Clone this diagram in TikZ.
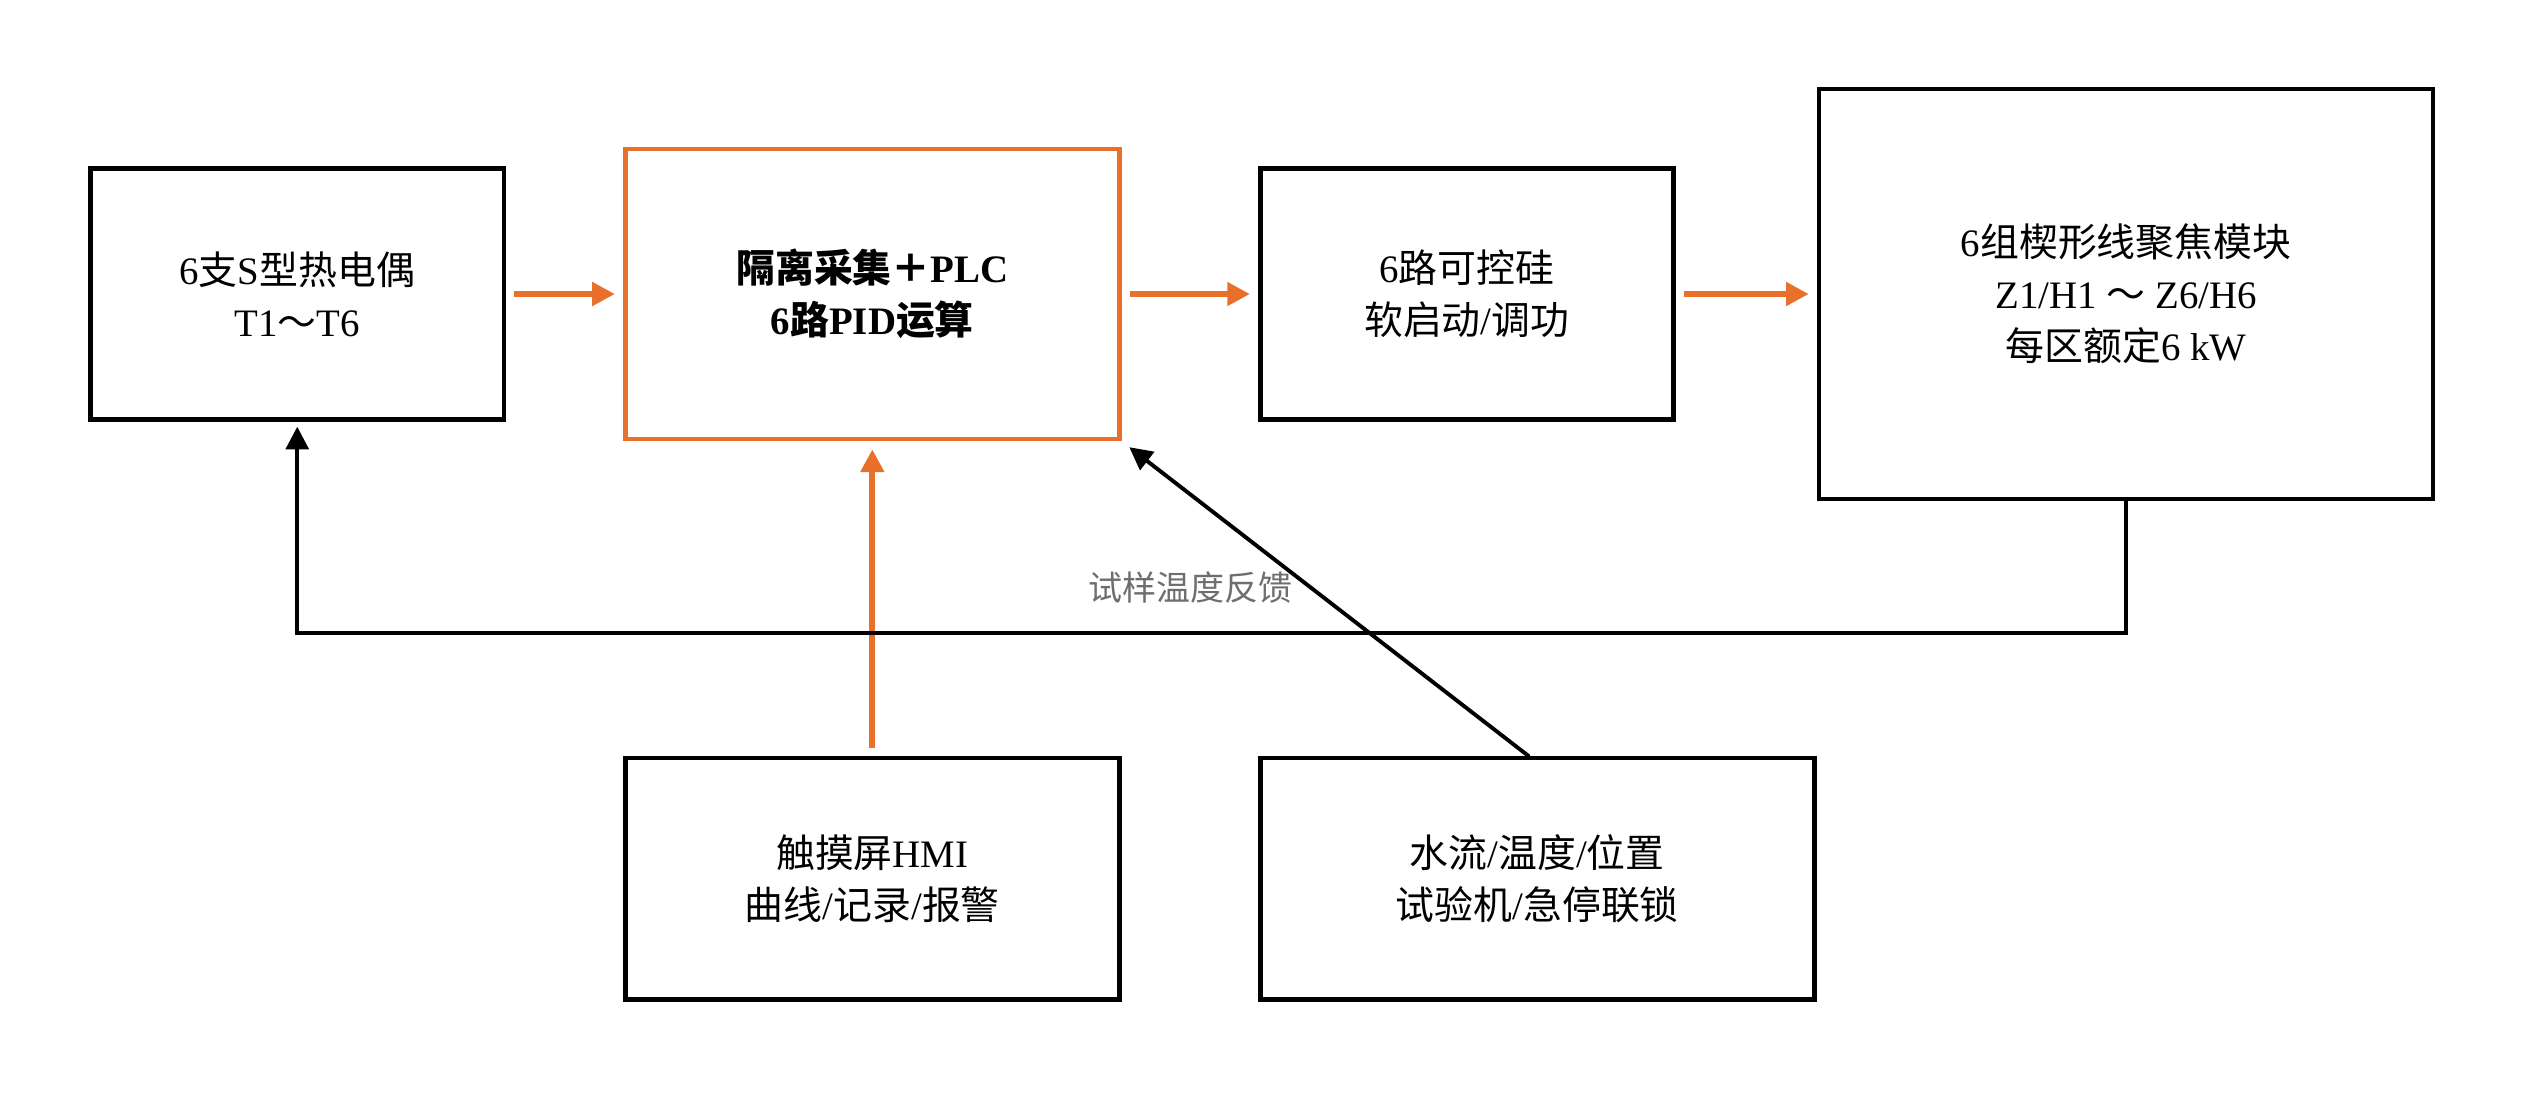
\documentclass[tikz,border=0pt]{standalone}
\usepackage{fontspec}
\setmainfont{Liberation Serif}
\newfontfamily\cjk{Noto Sans CJK SC}
\usetikzlibrary{arrows.meta, positioning}
\definecolor{ctrlorange}{RGB}{232,112,42}
\definecolor{notegray}{RGB}{110,110,110}
\tikzset{
  blockbox/.style={draw=black, line width=1.4pt, align=center, font=\fontsize{12}{16}\selectfont, inner sep=2pt},
  plcbox/.style={blockbox, draw=ctrlorange},
  flowarrow/.style={-{Triangle[length=7pt,width=7pt]}, line width=1.8pt, ctrlorange, shorten <=2.5pt, shorten >=2.5pt},
  fbarrow/.style={-{Triangle[length=7pt,width=7pt]}, line width=1.2pt, black}
}
\begin{document}
\begin{tikzpicture}[x=0.5pt, y=-0.5pt]
    \useasboundingbox (0,0) rectangle (1568,686);
    % Blocks
    \node[blockbox, minimum width=127.5pt, minimum height=77.5pt] (sensor) at (183.5,181.5) {6{\cjk 支}S{\cjk 型热电偶}\\T1{\cjk ～}T6};
    \node[plcbox, minimum width=152.5pt, minimum height=89.5pt, font=\fontsize{12}{16}\selectfont\bfseries] (plc) at (538.5,181.5) {{\cjk\bfseries 隔离采集＋}PLC\\6{\cjk\bfseries 路}PID{\cjk\bfseries 运算}};
    \node[blockbox, minimum width=127.5pt, minimum height=77.5pt] (scr) at (905.5,181.5) {6{\cjk 路可控硅}\\{\cjk 软启动}/{\cjk 调功}};
    \node[blockbox, minimum width=189.5pt, minimum height=126.5pt] (heater) at (1312.5,181.5) {6{\cjk 组楔形线聚焦模块}\\Z1/H1 {\cjk ～} Z6/H6\\{\cjk 每区额定}6 kW};
    \node[blockbox, minimum width=152.5pt, minimum height=74.5pt] (hmi) at (538.5,542.5) {{\cjk 触摸屏}HMI\\{\cjk 曲线}/{\cjk 记录}/{\cjk 报警}};
    \node[blockbox, minimum width=171pt, minimum height=74.5pt] (interlock) at (949,542.5) {{\cjk 水流}/{\cjk 温度}/{\cjk 位置}\\{\cjk 试验机}/{\cjk 急停联锁}};
    % Forward path
    \draw[flowarrow] (sensor) -- (plc);
    \draw[flowarrow] (plc) -- (scr);
    \draw[flowarrow] (scr) -- (heater);
    \draw[flowarrow] (hmi) -- (plc);
    % Interlock and feedback
    \coordinate (ilk) at (944,467);
    \draw[fbarrow, shorten >=3pt] (ilk) -- (plc.south east);
    \coordinate (fbturn) at (183.5,391);
    \draw[fbarrow, shorten >=1.5pt] (heater.south) |- (fbturn) -- (sensor.south);
    \node[font=\fontsize{10.5}{12}\selectfont\cjk, text=notegray] (fblabel) at (735,363) {试样温度反馈};
\end{tikzpicture}
\end{document}
